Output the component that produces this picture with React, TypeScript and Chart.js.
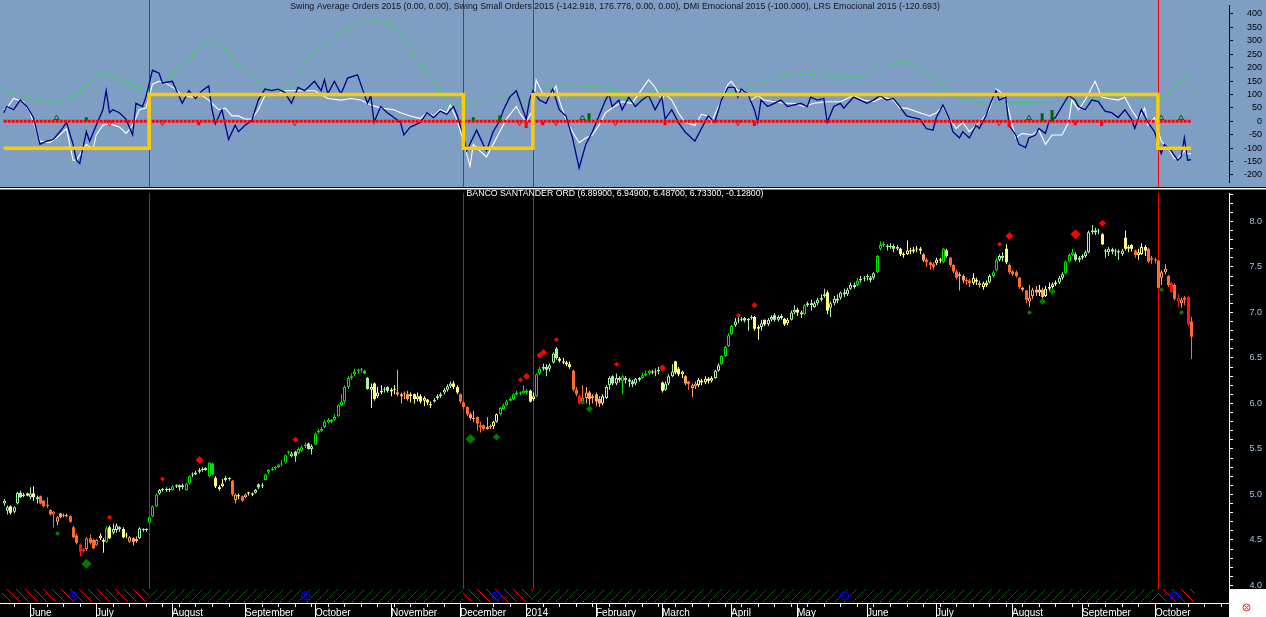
import React, { useEffect, useRef } from 'react';
import { Chart, registerables } from 'chart.js';

Chart.register(...registerables);

const FONT = '"Liberation Sans", Arial, Helvetica, sans-serif';

// ---------- calendar ----------
const monthNames = ['', 'June', 'July', 'August', 'September', 'October', 'November', 'December', '2014', 'February', 'March', 'April', 'May', 'June', 'July', 'August', 'September', 'October'];
const monthDays = [8, 20, 23, 22, 21, 23, 21, 20, 21, 20, 21, 20, 21, 21, 23, 21, 22, 12];
const FIRST_MONDAY = 3;
const FUTURE_SLOTS = 11;

// ---------- price (daily OHLC) ----------
const opens = [
  4.90, 4.82, 4.87, 4.81, 4.90, 5.02, 4.98, 5.01, 4.97, 5.01,
  4.97, 4.98, 4.93, 4.87, 4.83, 4.78, 4.70, 4.79, 4.76, 4.77,
  4.76, 4.64, 4.55, 4.45, 4.40, 4.40, 4.52, 4.50, 4.44, 4.52,
  4.48, 4.48, 4.64, 4.58, 4.61, 4.64, 4.62, 4.55, 4.48, 4.52,
  4.49, 4.52, 4.61, 4.61, 4.69, 4.76, 4.87, 5.01, 5.05, 5.05,
  5.06, 5.05, 5.09, 5.10, 5.08, 5.05, 5.12, 5.21, 5.22, 5.25,
  5.27, 5.27, 5.20, 5.34, 5.18, 5.08, 5.09, 5.16, 5.17, 5.15,
  4.94, 4.99, 4.98, 4.97, 5.01, 5.00, 5.02, 5.11, 5.09, 5.16,
  5.24, 5.27, 5.29, 5.30, 5.33, 5.35, 5.47, 5.42, 5.47, 5.45,
  5.48, 5.53, 5.56, 5.50, 5.55, 5.68, 5.70, 5.74, 5.79, 5.82,
  5.82, 5.86, 5.98, 6.02, 6.18, 6.28, 6.32, 6.36, 6.37, 6.36,
  6.28, 6.15, 6.22, 6.08, 6.12, 6.15, 6.18, 6.13, 6.15, 6.12,
  6.10, 6.10, 6.10, 6.08, 6.10, 6.05, 6.08, 6.03, 6.04, 5.99,
  6.02, 6.06, 6.08, 6.12, 6.15, 6.19, 6.22, 6.18, 6.10, 6.01,
  5.96, 5.88, 5.84, 5.85, 5.74, 5.76, 5.72, 5.74, 5.75, 5.80,
  5.88, 5.94, 5.98, 6.03, 6.05, 6.10, 6.12, 6.11, 6.14, 6.14,
  6.05, 6.08, 6.33, 6.38, 6.40, 6.38, 6.45, 6.60, 6.49, 6.46,
  6.45, 6.43, 6.36, 6.15, 6.08, 6.02, 6.06, 6.12, 6.08, 6.10,
  6.05, 6.00, 6.06, 6.20, 6.30, 6.22, 6.28, 6.24, 6.28, 6.26,
  6.24, 6.22, 6.26, 6.28, 6.31, 6.33, 6.35, 6.34, 6.35, 6.23,
  6.15, 6.22, 6.30, 6.46, 6.38, 6.32, 6.30, 6.24, 6.17, 6.19,
  6.20, 6.25, 6.23, 6.27, 6.25, 6.28, 6.36, 6.43, 6.52, 6.63,
  6.76, 6.86, 6.91, 6.92, 6.94, 6.91, 6.94, 6.95, 6.82, 6.84,
  6.92, 6.87, 6.92, 6.97, 6.92, 6.94, 6.93, 6.88, 6.92, 7.00,
  7.03, 7.00, 6.98, 7.08, 7.10, 7.06, 7.10, 7.14, 7.18, 7.22,
  7.05, 7.10, 7.15, 7.16, 7.22, 7.20, 7.26, 7.30, 7.30, 7.35,
  7.37, 7.40, 7.38, 7.38, 7.44, 7.70, 7.74, 7.72, 7.72, 7.73,
  7.70, 7.70, 7.64, 7.64, 7.68, 7.67, 7.69, 7.70, 7.64, 7.58,
  7.55, 7.53, 7.54, 7.58, 7.55, 7.68, 7.60, 7.52, 7.45, 7.40,
  7.40, 7.34, 7.35, 7.32, 7.36, 7.32, 7.28, 7.30, 7.33, 7.40,
  7.46, 7.58, 7.62, 7.70, 7.52, 7.45, 7.44, 7.38, 7.27, 7.24,
  7.12, 7.18, 7.25, 7.22, 7.25, 7.18, 7.26, 7.28, 7.31, 7.33,
  7.38, 7.43, 7.56, 7.63, 7.64, 7.58, 7.60, 7.62, 7.66, 7.88,
  7.90, 7.89, 7.86, 7.68, 7.66, 7.69, 7.67, 7.67, 7.64, 7.82,
  7.70, 7.74, 7.68, 7.63, 7.64, 7.72, 7.70, 7.58, 7.58, 7.57,
  7.38, 7.44, 7.40, 7.32, 7.30, 7.12, 7.10, 7.16, 7.17, 6.899,
];
const highs = [
  4.95, 4.88, 4.88, 4.87, 5.03, 5.04, 5.02, 5.02, 5.08, 5.09,
  4.99, 4.99, 4.94, 4.97, 4.84, 4.82, 4.76, 4.80, 4.79, 4.79,
  4.77, 4.66, 4.57, 4.46, 4.41, 4.53, 4.56, 4.51, 4.51, 4.57,
  4.52, 4.65, 4.66, 4.68, 4.68, 4.65, 4.64, 4.58, 4.54, 4.53,
  4.54, 4.64, 4.63, 4.63, 4.76, 4.88, 5.01, 5.06, 5.07, 5.08,
  5.07, 5.10, 5.11, 5.11, 5.12, 5.13, 5.21, 5.24, 5.26, 5.29,
  5.30, 5.30, 5.36, 5.35, 5.20, 5.10, 5.17, 5.20, 5.19, 5.16,
  5.01, 5.01, 4.99, 5.01, 5.03, 5.02, 5.06, 5.12, 5.13, 5.23,
  5.28, 5.30, 5.31, 5.34, 5.38, 5.44, 5.48, 5.47, 5.48, 5.52,
  5.54, 5.57, 5.57, 5.55, 5.68, 5.72, 5.74, 5.82, 5.84, 5.83,
  5.88, 5.99, 6.10, 6.20, 6.30, 6.33, 6.38, 6.38, 6.39, 6.37,
  6.29, 6.22, 6.23, 6.18, 6.20, 6.18, 6.19, 6.17, 6.20, 6.37,
  6.12, 6.13, 6.14, 6.12, 6.11, 6.12, 6.10, 6.08, 6.05, 6.02,
  6.06, 6.10, 6.12, 6.17, 6.21, 6.24, 6.25, 6.20, 6.11, 6.03,
  5.97, 5.90, 5.92, 5.86, 5.80, 5.77, 5.85, 5.77, 5.81, 5.89,
  5.96, 6.00, 6.04, 6.07, 6.11, 6.14, 6.13, 6.20, 6.16, 6.15,
  6.12, 6.33, 6.40, 6.44, 6.43, 6.44, 6.56, 6.62, 6.51, 6.50,
  6.47, 6.46, 6.37, 6.18, 6.10, 6.20, 6.18, 6.14, 6.10, 6.12,
  6.08, 6.10, 6.20, 6.30, 6.31, 6.33, 6.30, 6.31, 6.30, 6.28,
  6.26, 6.28, 6.29, 6.34, 6.36, 6.37, 6.37, 6.38, 6.40, 6.24,
  6.24, 6.32, 6.43, 6.47, 6.40, 6.36, 6.31, 6.25, 6.22, 6.24,
  6.28, 6.27, 6.30, 6.29, 6.30, 6.37, 6.44, 6.53, 6.63, 6.77,
  6.86, 6.94, 6.96, 6.95, 6.95, 6.94, 6.97, 6.96, 6.86, 6.92,
  6.92, 6.94, 6.97, 6.99, 6.97, 6.98, 6.94, 6.94, 7.02, 7.08,
  7.05, 7.02, 7.09, 7.12, 7.14, 7.12, 7.16, 7.20, 7.26, 7.24,
  7.12, 7.18, 7.20, 7.23, 7.26, 7.27, 7.33, 7.33, 7.38, 7.40,
  7.40, 7.42, 7.40, 7.44, 7.63, 7.78, 7.78, 7.75, 7.76, 7.75,
  7.74, 7.71, 7.66, 7.79, 7.71, 7.72, 7.73, 7.72, 7.65, 7.60,
  7.56, 7.55, 7.60, 7.60, 7.71, 7.70, 7.61, 7.53, 7.47, 7.44,
  7.42, 7.38, 7.37, 7.43, 7.38, 7.35, 7.34, 7.35, 7.42, 7.46,
  7.60, 7.64, 7.66, 7.75, 7.54, 7.47, 7.46, 7.39, 7.28, 7.25,
  7.30, 7.27, 7.29, 7.30, 7.27, 7.29, 7.33, 7.33, 7.35, 7.40,
  7.44, 7.57, 7.65, 7.70, 7.66, 7.62, 7.64, 7.68, 7.90, 7.96,
  7.93, 7.92, 7.87, 7.70, 7.72, 7.71, 7.70, 7.69, 7.70, 7.90,
  7.74, 7.75, 7.69, 7.70, 7.76, 7.74, 7.71, 7.62, 7.60, 7.58,
  7.46, 7.53, 7.41, 7.34, 7.32, 7.20, 7.16, 7.18, 7.18, 6.949,
];
const lows = [
  4.88, 4.78, 4.78, 4.79, 4.89, 4.96, 4.97, 4.98, 4.95, 4.93,
  4.90, 4.89, 4.86, 4.85, 4.77, 4.64, 4.66, 4.74, 4.75, 4.75,
  4.69, 4.52, 4.45, 4.32, 4.36, 4.38, 4.45, 4.40, 4.43, 4.50,
  4.36, 4.47, 4.51, 4.56, 4.58, 4.59, 4.52, 4.52, 4.47, 4.44,
  4.47, 4.51, 4.59, 4.59, 4.68, 4.75, 4.86, 5.00, 5.03, 5.03,
  5.03, 5.04, 5.07, 5.04, 5.06, 5.04, 5.11, 5.19, 5.21, 5.23,
  5.25, 5.26, 5.19, 5.21, 5.07, 5.04, 5.08, 5.14, 5.15, 4.98,
  4.90, 4.95, 4.92, 4.96, 4.99, 4.98, 5.01, 5.06, 5.07, 5.15,
  5.22, 5.26, 5.27, 5.29, 5.31, 5.34, 5.44, 5.41, 5.36, 5.44,
  5.47, 5.51, 5.49, 5.44, 5.54, 5.67, 5.69, 5.73, 5.78, 5.78,
  5.81, 5.85, 5.97, 6.00, 6.16, 6.26, 6.30, 6.33, 6.34, 6.32,
  6.15, 5.95, 6.03, 6.06, 6.10, 6.12, 6.12, 6.08, 6.10, 6.08,
  6.00, 6.05, 6.03, 6.01, 6.00, 6.02, 6.00, 5.97, 5.98, 5.95,
  6.01, 6.04, 6.06, 6.10, 6.13, 6.17, 6.16, 6.10, 6.00, 5.94,
  5.86, 5.82, 5.80, 5.70, 5.68, 5.70, 5.71, 5.72, 5.72, 5.79,
  5.87, 5.93, 5.97, 6.02, 6.04, 6.09, 6.09, 6.10, 6.10, 6.01,
  6.03, 6.07, 6.31, 6.36, 6.30, 6.35, 6.44, 6.48, 6.45, 6.43,
  6.41, 6.38, 6.13, 6.08, 5.99, 6.00, 6.00, 5.98, 6.00, 5.97,
  5.96, 5.98, 6.05, 6.15, 6.20, 6.20, 6.23, 6.10, 6.22, 6.18,
  6.18, 6.20, 6.24, 6.27, 6.30, 6.31, 6.32, 6.30, 6.32, 6.12,
  6.14, 6.20, 6.29, 6.32, 6.30, 6.28, 6.20, 6.15, 6.07, 6.16,
  6.18, 6.20, 6.21, 6.22, 6.23, 6.27, 6.35, 6.42, 6.51, 6.62,
  6.75, 6.84, 6.88, 6.90, 6.89, 6.80, 6.92, 6.80, 6.70, 6.80,
  6.85, 6.85, 6.90, 6.90, 6.90, 6.92, 6.85, 6.86, 6.91, 6.98,
  6.96, 6.94, 6.97, 7.06, 7.02, 7.05, 7.08, 7.12, 7.16, 6.98,
  6.95, 7.08, 7.10, 7.14, 7.17, 7.18, 7.25, 7.26, 7.29, 7.33,
  7.34, 7.35, 7.33, 7.36, 7.43, 7.68, 7.72, 7.68, 7.70, 7.66,
  7.68, 7.62, 7.60, 7.63, 7.64, 7.65, 7.66, 7.64, 7.55, 7.50,
  7.47, 7.47, 7.52, 7.54, 7.54, 7.60, 7.50, 7.43, 7.36, 7.24,
  7.32, 7.30, 7.28, 7.30, 7.30, 7.27, 7.25, 7.28, 7.32, 7.38,
  7.45, 7.56, 7.56, 7.53, 7.42, 7.40, 7.38, 7.26, 7.23, 7.10,
  7.06, 7.15, 7.18, 7.18, 7.15, 7.17, 7.24, 7.26, 7.29, 7.31,
  7.36, 7.42, 7.55, 7.62, 7.56, 7.55, 7.58, 7.60, 7.65, 7.86,
  7.85, 7.86, 7.74, 7.60, 7.62, 7.64, 7.62, 7.58, 7.62, 7.68,
  7.66, 7.67, 7.60, 7.58, 7.63, 7.62, 7.54, 7.53, 7.54, 7.26,
  7.30, 7.42, 7.28, 7.22, 7.13, 7.06, 7.05, 7.08, 6.85, 6.487,
];
const closes = [
  4.93, 4.86, 4.80, 4.86, 5.02, 4.97, 5.00, 4.99, 5.01, 4.97,
  4.95, 4.90, 4.87, 4.89, 4.78, 4.81, 4.75, 4.75, 4.77, 4.76,
  4.70, 4.53, 4.47, 4.37, 4.38, 4.52, 4.47, 4.41, 4.50, 4.55,
  4.50, 4.63, 4.52, 4.62, 4.66, 4.62, 4.53, 4.56, 4.53, 4.48,
  4.51, 4.63, 4.62, 4.61, 4.75, 4.87, 5.00, 5.05, 5.05, 5.06,
  5.05, 5.09, 5.09, 5.08, 5.10, 5.12, 5.20, 5.22, 5.24, 5.27,
  5.28, 5.29, 5.35, 5.22, 5.09, 5.06, 5.12, 5.18, 5.17, 5.00,
  5.00, 4.98, 4.93, 5.00, 5.01, 5.00, 5.05, 5.08, 5.10, 5.22,
  5.27, 5.28, 5.30, 5.33, 5.34, 5.43, 5.46, 5.45, 5.42, 5.50,
  5.52, 5.55, 5.50, 5.53, 5.67, 5.70, 5.72, 5.80, 5.82, 5.80,
  5.85, 5.98, 6.02, 6.18, 6.28, 6.30, 6.35, 6.36, 6.38, 6.33,
  6.16, 6.18, 6.05, 6.12, 6.14, 6.16, 6.14, 6.15, 6.16, 6.10,
  6.08, 6.11, 6.05, 6.10, 6.05, 6.08, 6.02, 6.06, 6.01, 5.98,
  6.04, 6.08, 6.10, 6.15, 6.19, 6.22, 6.18, 6.12, 6.02, 5.96,
  5.88, 5.84, 5.83, 5.78, 5.76, 5.72, 5.74, 5.75, 5.80, 5.88,
  5.95, 5.98, 6.02, 6.05, 6.10, 6.12, 6.11, 6.14, 6.12, 6.02,
  6.08, 6.32, 6.38, 6.40, 6.37, 6.42, 6.55, 6.50, 6.47, 6.45,
  6.43, 6.40, 6.15, 6.10, 6.00, 6.06, 6.12, 6.05, 6.06, 6.02,
  6.00, 6.08, 6.18, 6.28, 6.22, 6.28, 6.26, 6.30, 6.26, 6.24,
  6.21, 6.27, 6.28, 6.31, 6.33, 6.36, 6.34, 6.35, 6.37, 6.14,
  6.22, 6.30, 6.35, 6.34, 6.32, 6.35, 6.22, 6.21, 6.20, 6.22,
  6.26, 6.23, 6.27, 6.25, 6.28, 6.36, 6.42, 6.52, 6.62, 6.75,
  6.85, 6.90, 6.92, 6.93, 6.91, 6.93, 6.95, 6.82, 6.84, 6.88,
  6.87, 6.92, 6.95, 6.92, 6.95, 6.96, 6.87, 6.92, 7.00, 7.03,
  7.00, 6.98, 7.08, 7.10, 7.08, 7.10, 7.14, 7.16, 7.20, 7.02,
  7.10, 7.15, 7.13, 7.22, 7.20, 7.25, 7.30, 7.28, 7.35, 7.37,
  7.38, 7.39, 7.36, 7.43, 7.62, 7.74, 7.75, 7.72, 7.73, 7.70,
  7.72, 7.64, 7.63, 7.68, 7.67, 7.69, 7.70, 7.68, 7.57, 7.55,
  7.52, 7.50, 7.58, 7.57, 7.70, 7.62, 7.52, 7.45, 7.38, 7.42,
  7.35, 7.36, 7.32, 7.38, 7.34, 7.30, 7.32, 7.33, 7.40, 7.44,
  7.58, 7.62, 7.60, 7.55, 7.44, 7.42, 7.40, 7.28, 7.25, 7.14,
  7.16, 7.25, 7.22, 7.25, 7.17, 7.26, 7.28, 7.31, 7.33, 7.38,
  7.42, 7.56, 7.63, 7.66, 7.58, 7.60, 7.62, 7.66, 7.88, 7.90,
  7.88, 7.90, 7.75, 7.67, 7.70, 7.67, 7.68, 7.66, 7.68, 7.70,
  7.72, 7.70, 7.63, 7.66, 7.72, 7.68, 7.56, 7.60, 7.57, 7.27,
  7.44, 7.48, 7.30, 7.25, 7.15, 7.16, 7.14, 7.14, 6.87, 6.733,
];
// trend tone of each candle: [first bar, tone] (0 red .. 5 bright green)
const toneRuns: [number, number][] = [
  [0, 4], [2, 3], [3, 4], [7, 3], [8, 4], [9, 3], [10, 4], [11, 1], [16, 2], [20, 1], [23, 0], [25, 1],
  [29, 3], [31, 5], [32, 3], [33, 4], [36, 3], [38, 2], [41, 4], [44, 5], [47, 4], [51, 5], [52, 4],
  [55, 5], [57, 4], [62, 5], [64, 3], [67, 4], [69, 1], [70, 2], [71, 3], [72, 1], [73, 2], [74, 3],
  [76, 4], [79, 5], [87, 4], [89, 5], [92, 4], [94, 5], [110, 4], [111, 3], [115, 4], [117, 3], [119, 2],
  [123, 3], [130, 4], [136, 3], [138, 1], [141, 2], [143, 1], [146, 2], [148, 3], [150, 5], [159, 3],
  [161, 5], [163, 4], [168, 3], [172, 1], [174, 0], [175, 1], [176, 2], [181, 3], [182, 4], [187, 5],
  [188, 4], [193, 5], [196, 4], [199, 3], [200, 4], [203, 3], [206, 2], [207, 1], [208, 2], [210, 3],
  [215, 4], [217, 5], [221, 4], [227, 3], [229, 4], [230, 3], [231, 4], [236, 3], [238, 4], [240, 3],
  [241, 4], [242, 5], [243, 4], [249, 3], [250, 4], [258, 5], [259, 4], [264, 5], [267, 4], [271, 3],
  [278, 2], [279, 1], [282, 3], [284, 5], [285, 3], [286, 1], [289, 2], [291, 1], [293, 3], [295, 2],
  [296, 3], [298, 4], [299, 5], [301, 4], [303, 3], [304, 1], [308, 2], [309, 1], [310, 2], [313, 3],
  [314, 2], [315, 3], [319, 4], [321, 5], [324, 4], [332, 3], [333, 4], [339, 3], [342, 1], [343, 3],
  [346, 1], [350, 2], [352, 1], [353, 0], [354, 1], [355, 0], [356, 2], [357, 1], [358, 0], [359, 1],
];
const toneColors = ['#ff1414', '#ff6c2c', '#ffa466', '#ffff8a', '#a8f2a8', '#00e400'];

// price-panel signal markers
const redDiaIdx = [32, 48, 59, 88, 156, 158, 162, 163, 167, 185, 199, 222, 227, 301, 304, 324, 332, 353];
const redDiaVals = [4.75, 5.17, 5.38, 5.60, 6.26, 6.30, 6.53, 6.56, 6.70, 6.43, 6.39, 6.97, 7.08, 7.75, 7.84, 7.86, 7.98, 7.24];
const redDiaSize = [2.5, 2.5, 4, 3, 2.5, 3.5, 3, 3.5, 2.5, 2.5, 3.5, 2.5, 3, 2.5, 4, 5, 3.5, 2.5];
const greenDiaIdx = [16, 25, 141, 149, 175, 177, 310, 314, 317, 350, 356];
const greenDiaVals = [4.57, 4.24, 5.61, 5.63, 6.01, 5.94, 7.00, 7.12, 7.23, 7.25, 7.00];
const greenDiaSize = [2.5, 5, 5, 3.5, 2.5, 3.5, 2.5, 3.5, 3.5, 2.5, 2.5];
const swingMarkIdx = [21, 91, 149, 254, 354];
const SWING_MARK_LEVEL = 3.885;
const HATCH_TOP = 3.96;
const HATCH_BOTTOM = 3.818;

// ---------- indicator panel ----------
const signalBars = [44, 139, 160, 349];
const signalColors = ['#008000', '#ff0000', '#008000', '#ff0000'];
const dmiIdx = [0, 44, 139, 160, 349, 359];
const dmiVals = [-100, 100, -100, 100, -100, -100];

const swingSmall: [number, number][] = [
  [0, 32], [1, 55], [3, 43], [5, 79], [7, 55], [9, 14], [11, -86], [13, -74], [15, -68], [17, -39], [19, -4],
  [21, -86], [22, -145], [23, -157], [25, -39], [26, -74], [28, -15], [30, 43], [31, 114], [32, 32], [33, 43],
  [35, 32], [37, 8], [39, -51], [40, 67], [42, 55], [43, 90], [45, 190], [47, 179], [48, 143], [51, 149],
  [54, 67], [56, 114], [58, 85], [60, 114], [62, 132], [63, 43], [64, -9], [66, 43], [68, -68], [70, -15],
  [71, -39], [73, -15], [75, 2], [77, 79], [79, 120], [81, 114], [83, 120], [85, 108], [87, 67], [89, 126],
  [91, 114], [94, 149], [96, 114], [97, 155], [98, 102], [100, 149], [102, 102], [104, 161], [107, 173],
  [109, 102], [110, 67], [111, 96], [112, -4], [114, 55], [116, 32], [118, 14], [120, -4], [121, -51],
  [123, -21], [126, -4], [128, 32], [130, 14], [132, 38], [134, 26], [136, 55], [137, 26], [139, -51],
  [140, -110], [143, -33], [145, -86], [146, -110], [148, -39], [150, 2], [151, 38], [153, 90], [155, 114],
  [156, 79], [158, 8], [159, 79], [160, 114], [162, 79], [164, 67], [166, 120], [168, 43], [170, 20],
  [172, -62], [174, -174], [176, -86], [178, -39], [180, 20], [182, 79], [183, 102], [184, 55], [186, 79],
  [187, 43], [189, 90], [191, 55], [193, 79], [195, 96], [197, 43], [199, 90], [200, 8], [202, 43],
  [204, -4], [206, -39], [209, -74], [211, -27], [213, 20], [215, -4], [217, 79], [219, 126], [221, 126],
  [222, 90], [223, 120], [225, 102], [227, 43], [228, -4], [229, 79], [231, 55], [233, 67], [235, 79],
  [237, 55], [239, 61], [241, 67], [243, 55], [244, 90], [246, 79], [248, 85], [249, -4], [251, 55],
  [253, 67], [254, 49], [257, 90], [259, 79], [261, 67], [263, 79], [265, 96], [267, 79], [269, 85],
  [271, 55], [273, 20], [275, 14], [277, 8], [279, -27], [281, -33], [282, 14], [284, 61], [286, 8],
  [287, -39], [289, -62], [290, -39], [292, -62], [294, -15], [295, -27], [297, 20], [298, 55], [300, 114],
  [301, 79], [303, 90], [304, -15], [306, -51], [307, -86], [309, -98], [310, -62], [312, -51], [313, -27],
  [315, -45], [316, -4], [318, 14], [320, 55], [322, 96], [324, 79], [325, 55], [327, 43], [329, 79],
  [331, 73], [333, 38], [335, 32], [337, 14], [339, 43], [341, 8], [342, -27], [344, 43], [346, -4],
  [348, -39], [350, -121], [351, -86], [353, -110], [355, -145], [356, -133], [357, -62], [358, -145], [359, -143],
];
const lrsEmocional: [number, number][] = [
  [0, 43], [1, 49], [3, 85], [6, 73], [8, 32], [10, -39], [11, -74], [14, -80], [16, -62], [19, -27],
  [21, -145], [22, -145], [25, -86], [27, -104], [28, -51], [30, -15], [32, -9], [35, -21], [37, -45],
  [39, -15], [41, 43], [43, 49], [45, 138], [47, 149], [49, 143], [52, 120], [54, 96], [57, 90], [60, 96],
  [62, 79], [65, 43], [67, 49], [69, 20], [71, 20], [73, 8], [75, 8], [77, 43], [79, 96], [83, 102],
  [85, 114], [89, 114], [94, 114], [98, 85], [102, 79], [105, 85], [108, 79], [111, 61], [114, 49],
  [118, 43], [120, 32], [123, 20], [126, 10], [128, 32], [130, 20], [132, 43], [134, 32], [135, 61],
  [137, 8], [139, -74], [141, -168], [142, -86], [144, -110], [146, -133], [148, -86], [150, -39],
  [152, 8], [155, 55], [156, 32], [158, -4], [160, 43], [161, 155], [163, 102], [165, 90], [167, 132],
  [168, 79], [170, 8], [172, -39], [174, -80], [176, -62], [178, -51], [180, -15], [182, 32], [184, 49],
  [187, 73], [190, 67], [192, 102], [195, 155], [197, 126], [199, 79], [200, 102], [202, 79], [204, 32],
  [206, -4], [209, -15], [211, 26], [213, 20], [214, -4], [217, 79], [219, 138], [220, 149], [222, 114],
  [224, 114], [226, 79], [228, 96], [230, 79], [233, 73], [236, 67], [239, 67], [242, 55], [245, 67],
  [249, 73], [253, 73], [257, 96], [260, 79], [263, 73], [266, 90], [269, 79], [271, 49], [273, 49],
  [277, 32], [280, 20], [282, 32], [284, 55], [286, 8], [288, -27], [290, -4], [292, -39], [294, -15],
  [296, 8], [298, 43], [300, 120], [301, 114], [303, 85], [305, -15], [306, -62], [308, -45], [311, -51],
  [313, -33], [315, -86], [317, -51], [320, -51], [322, -4], [323, 79], [325, 43], [327, 79], [328, 102],
  [330, 149], [332, 90], [334, 85], [337, 79], [339, 90], [341, 43], [343, 8], [345, 49], [346, -15],
  [348, 14], [350, -74], [352, -98], [354, -139], [355, -139], [357, -110], [358, -121], [359, -121],
];
const swingAverage: [number, number][] = [
  [0, 114], [5, 95], [10, 78], [15, 75], [19, 80], [25, 130], [30, 177], [35, 160], [40, 130], [44, 114],
  [48, 142], [55, 220], [62, 297], [67, 270], [72, 200], [77, 150], [80, 120], [85, 120], [90, 190],
  [94, 255], [101, 319], [106, 360], [110, 379], [114, 372], [117, 361], [122, 290], [126, 209],
  [130, 150], [134, 78], [139, 64], [144, 67], [151, 96], [159, 78], [163, 110], [166, 131], [171, 133],
  [176, 131], [184, 119], [190, 78], [196, 107], [202, 125], [207, 110], [211, 96], [217, 103], [225, 120],
  [232, 155], [238, 177], [243, 176], [247, 171], [253, 165], [259, 167], [266, 202], [272, 220],
  [277, 202], [282, 150], [286, 107], [292, 80], [298, 67], [308, 70], [318, 74], [326, 67], [332, 100],
  [338, 114], [344, 95], [348, 78], [353, 114], [356, 145], [359, 173],
];
const histIdx = [25, 59, 142, 150, 158, 163, 177, 200, 227, 304, 314, 317, 324, 332];
const histVals = [15, -15, 15, 22, -25, -15, 30, -15, -18, -22, 30, 42, -15, -18];
const upMarkIdx = [16, 175, 310, 350, 356];
const downMarkIdx = [32, 48, 88, 156, 167, 185, 222, 301];
const UP_MARK_LEVEL = 12;
const DOWN_MARK_LEVEL = -5;

const topTitle = 'Swing Average Orders 2015 (0.00, 0.00), Swing Small Orders 2015 (-142.918, 176.776, 0.00, 0.00), DMI Emocional 2015 (-100.000), LRS Emocional 2015 (-120.693)';
const bottomTitle = 'BANCO SANTANDER ORD (6.89900, 6.94900, 6.48700, 6.73300, -0.12800)';

// ---------- derived helpers ----------
const TOTAL_BARS = closes.length;
const X_MIN = -0.5;
const X_MAX = TOTAL_BARS + FUTURE_SLOTS - 0.5;
const monthStarts: number[] = [];
monthDays.reduce((acc, d) => { monthStarts.push(acc); return acc + d; }, 0);
const monthLabelAt = new Map<number, string>();
monthStarts.forEach((s, k) => { if (monthNames[k]) monthLabelAt.set(s, monthNames[k]); });

const toneOf = (i: number) => {
  let t = toneRuns[0][1];
  for (const [s, v] of toneRuns) { if (s <= i) t = v; else break; }
  return t;
};
const pairsToPts = (arr: [number, number][]) => arr.map(([x, y]) => ({ x, y }));
const idxToPts = (idx: number[], vals: number[]) => idx.map((x, k) => ({ x, y: vals[k] }));

function fitText(ctx: CanvasRenderingContext2D, text: string, cx: number, cy: number, width: number, color: string) {
  ctx.font = `10px ${FONT}`;
  const w = ctx.measureText(text).width;
  const size = (10 * width) / w;
  ctx.font = `${size.toFixed(2)}px ${FONT}`;
  ctx.fillStyle = color;
  ctx.textAlign = 'center';
  ctx.textBaseline = 'middle';
  ctx.fillText(text, cx, cy);
}

const topPlugin = {
  id: 'topDecor',
  beforeDraw(chart: any) {
    const { ctx } = chart;
    ctx.save();
    ctx.fillStyle = '#7f9ec4';
    ctx.fillRect(0, 0, chart.width, chart.height);
    ctx.restore();
  },
  beforeDatasetsDraw(chart: any) {
    const { ctx } = chart;
    const xs = chart.scales.x;
    ctx.save();
    signalBars.forEach((b, k) => {
      const x = Math.round(xs.getPixelForValue(b)) + 0.5;
      ctx.strokeStyle = signalColors[k];
      ctx.lineWidth = 1;
      ctx.beginPath();
      ctx.moveTo(x, 0);
      ctx.lineTo(x, chart.height);
      ctx.stroke();
    });
    ctx.restore();
  },
  afterDraw(chart: any) {
    const { ctx } = chart;
    ctx.save();
    fitText(ctx, topTitle, 615, 7, 650, '#161616');
    ctx.fillStyle = '#000';
    ctx.fillRect(0, chart.height - 1, chart.width, 1);
    ctx.restore();
  },
};

const bottomPlugin = {
  id: 'bottomDecor',
  beforeDraw(chart: any) {
    const { ctx } = chart;
    ctx.save();
    ctx.fillStyle = '#000';
    ctx.fillRect(0, 0, chart.width, chart.height);
    ctx.restore();
  },
  beforeDatasetsDraw(chart: any) {
    const { ctx, chartArea } = chart;
    const xs = chart.scales.x;
    const ys = chart.scales.y;
    const hTop = Math.round(ys.getPixelForValue(HATCH_TOP));
    const hBot = Math.round(ys.getPixelForValue(HATCH_BOTTOM));
    ctx.save();
    signalBars.forEach((b, k) => {
      const x = Math.round(xs.getPixelForValue(b)) + 0.5;
      ctx.strokeStyle = signalColors[k];
      ctx.lineWidth = 1;
      ctx.beginPath();
      ctx.moveTo(x, chartArea.top);
      ctx.lineTo(x, hTop);
      ctx.stroke();
    });
    const bounds = [0, ...signalBars, TOTAL_BARS - 1];
    for (let s = 0; s < bounds.length - 1; s++) {
      const red = s % 2 === 0;
      const x0 = s === 0 ? chartArea.left : xs.getPixelForValue(bounds[s]);
      const x1 = s === bounds.length - 2 ? xs.getPixelForValue(bounds[s + 1]) + 4 : xs.getPixelForValue(bounds[s + 1]);
      ctx.save();
      ctx.beginPath();
      ctx.rect(x0, hTop, x1 - x0, hBot - hTop);
      ctx.clip();
      ctx.strokeStyle = red ? '#ff0000' : '#00b400';
      ctx.lineWidth = 1;
      ctx.setLineDash(red ? [] : [1.5, 1.5]);
      const h = hBot - hTop;
      ctx.beginPath();
      for (let x = x0 - h - 9; x < x1 + h; x += 9) {
        if (red) { ctx.moveTo(x, hTop); ctx.lineTo(x + h, hBot); }
        else { ctx.moveTo(x, hBot); ctx.lineTo(x + h, hTop); }
      }
      ctx.stroke();
      ctx.restore();
    }
    ctx.restore();
    // shift marks by half a pixel so 1px wicks / 3px bodies land on whole pixels
    ctx.save();
    ctx.translate(0.5, 0);
  },
  afterDatasetsDraw(chart: any) {
    chart.ctx.restore();
  },
  afterDraw(chart: any) {
    const { ctx, chartArea } = chart;
    const xs = chart.scales.x;
    ctx.save();
    ctx.fillStyle = '#ffffff';
    ctx.fillRect(0, 0, chart.width, 1.5);
    ctx.strokeStyle = '#ffffff';
    ctx.lineWidth = 1;
    monthStarts.forEach((s, k) => {
      if (k === 0) return;
      const x = Math.round(xs.getPixelForValue(s)) + 0.5;
      ctx.beginPath();
      ctx.moveTo(x, chartArea.bottom);
      ctx.lineTo(x, chart.height);
      ctx.stroke();
    });
    ctx.fillRect(0, chartArea.bottom, chartArea.left, 1);
    fitText(ctx, bottomTitle, 615, 6, 297, '#ffffff');
    ctx.fillStyle = '#ffffff';
    ctx.fillRect(chartArea.right, 401, chart.width - chartArea.right, chart.height - 401);
    ctx.strokeStyle = '#ff2020';
    ctx.lineWidth = 1;
    const cx = 1246.5, cy = 419.5;
    ctx.beginPath();
    ctx.arc(cx, cy, 3.5, 0, Math.PI * 2);
    ctx.moveTo(cx - 2, cy - 2); ctx.lineTo(cx + 2, cy + 2);
    ctx.moveTo(cx + 2, cy - 2); ctx.lineTo(cx - 2, cy + 2);
    ctx.stroke();
    ctx.restore();
  },
};

function buildTopConfig(): any {
  return {
    type: 'line',
    data: {
      datasets: [
        { label: 'Swing Average Orders 2015', data: pairsToPts(swingAverage), borderColor: '#00ff00', borderWidth: 1.2, borderDash: [2, 3], pointRadius: 0, cubicInterpolationMode: 'monotone', order: 7 },
        { label: 'LRS Emocional 2015', data: pairsToPts(lrsEmocional), borderColor: '#ffffff', borderWidth: 1.1, pointRadius: 0, order: 6 },
        { label: 'Swing Small Orders 2015', data: pairsToPts(swingSmall), borderColor: '#000088', borderWidth: 1.3, pointRadius: 0, order: 5 },
        { label: 'zero', data: [{ x: 0, y: 0 }, { x: TOTAL_BARS - 1, y: 0 }], borderColor: '#ff0000', borderWidth: 3, borderDash: [3, 1], pointRadius: 0, order: 4 },
        { type: 'bar', label: 'orders', data: idxToPts(histIdx, histVals), backgroundColor: histVals.map((v) => (v >= 0 ? '#006400' : '#ff0000')), barThickness: 3, grouped: false, inflateAmount: 0, order: 3 },
        { label: 'up', data: upMarkIdx.map((x) => ({ x, y: UP_MARK_LEVEL })), showLine: false, pointStyle: 'triangle', pointRadius: 3, pointBorderColor: '#006400', pointBackgroundColor: 'rgba(0,0,0,0)', pointBorderWidth: 1, order: 2 },
        { label: 'down', data: downMarkIdx.map((x) => ({ x, y: DOWN_MARK_LEVEL })), showLine: false, pointStyle: 'triangle', pointRotation: 180, pointRadius: 3, pointBorderColor: '#ff0000', pointBackgroundColor: 'rgba(0,0,0,0)', pointBorderWidth: 1, order: 2 },
        { label: 'DMI Emocional 2015', data: idxToPts(dmiIdx, dmiVals), borderColor: '#ffcc00', borderWidth: 3.5, stepped: 'before', pointRadius: 0, order: 1 },
      ],
    },
    options: {
      animation: false,
      responsive: false,
      maintainAspectRatio: false,
      devicePixelRatio: 1,
      events: [],
      layout: { autoPadding: false, padding: { left: 2, right: 4, top: 0, bottom: 1 } },
      plugins: { legend: { display: false }, tooltip: { enabled: false }, title: { display: false } },
      scales: {
        x: { type: 'linear', min: X_MIN, max: X_MAX, display: false, offset: false, grid: { offset: false } },
        y: {
          position: 'right',
          min: -228.4,
          max: 431.7,
          afterFit: (s: any) => { s.width = 33; },
          afterBuildTicks: (s: any) => {
            const t = [];
            for (let v = -200; v <= 400; v += 50) t.push({ value: v });
            s.ticks = t;
          },
          ticks: { color: '#000000', font: { family: FONT, size: 9 }, crossAlign: 'far', padding: 0, autoSkip: false, callback: (v: number) => String(v) },
          grid: { drawOnChartArea: false, tickLength: 4, color: '#000000' },
          border: { color: '#000000' },
        },
      },
    },
    plugins: [topPlugin],
  };
}

function buildBottomConfig(): any {
  const bars = closes.map((_, i) => i);
  const tone = bars.map((i) => toneColors[toneOf(i)]);
  const up = bars.map((i) => closes[i] > opens[i]);
  return {
    type: 'line',
    data: {
      datasets: [
        { type: 'bar', label: 'range', data: bars.map((i) => ({ x: i, y: [lows[i], highs[i]] })), backgroundColor: tone, barThickness: 1, grouped: false, inflateAmount: 0, minBarLength: 1, order: 6 },
        { type: 'bar', label: 'BANCO SANTANDER ORD', data: bars.map((i) => ({ x: i, y: [opens[i], closes[i]] })), backgroundColor: bars.map((i) => (up[i] ? '#000000' : tone[i])), borderColor: tone, borderWidth: bars.map((i) => (up[i] ? 1 : 0)), borderSkipped: false, barThickness: 3, grouped: false, inflateAmount: 0, minBarLength: 1, order: 5 },
        { label: 'sell', data: idxToPts(redDiaIdx, redDiaVals), showLine: false, pointStyle: 'rectRot', pointRadius: redDiaSize, pointBackgroundColor: '#ff0000', pointBorderWidth: 0, order: 2 },
        { label: 'buy', data: idxToPts(greenDiaIdx, greenDiaVals), showLine: false, pointStyle: 'rectRot', pointRadius: greenDiaSize, pointBackgroundColor: '#007a00', pointBorderWidth: 0, order: 2 },
        { label: 'swing', data: swingMarkIdx.map((x) => ({ x, y: SWING_MARK_LEVEL })), showLine: false, pointStyle: 'circle', pointRadius: 4, pointBorderColor: '#0000ff', pointBackgroundColor: 'rgba(0,0,0,0)', pointBorderWidth: 1.3, order: 1 },
        { label: 'swing-x', data: swingMarkIdx.map((x) => ({ x, y: SWING_MARK_LEVEL })), showLine: false, pointStyle: 'crossRot', pointRadius: 3, pointBorderColor: '#0000ff', pointBorderWidth: 1, order: 1 },
      ],
    },
    options: {
      animation: false,
      responsive: false,
      maintainAspectRatio: false,
      devicePixelRatio: 1,
      events: [],
      layout: { autoPadding: false, padding: { left: 2, right: 4, top: 1, bottom: 0 } },
      plugins: { legend: { display: false }, tooltip: { enabled: false }, title: { display: false } },
      scales: {
        x: {
          type: 'linear',
          min: X_MIN,
          max: X_MAX,
          position: 'bottom',
          offset: false,
          alignToPixels: true,
          afterFit: (s: any) => { s.height = 14; s.paddingLeft = 0; s.paddingRight = 0; },
          afterBuildTicks: (s: any) => {
            const set = new Set<number>();
            for (let i = FIRST_MONDAY; i < TOTAL_BARS + FUTURE_SLOTS; i += 5) set.add(i);
            monthStarts.forEach((m, k) => { if (k > 0) set.add(m); });
            s.ticks = [...set].sort((a, b) => a - b).map((value) => ({ value }));
          },
          ticks: { color: '#ffffff', font: { family: FONT, size: 10 }, align: 'start', padding: 0, autoSkip: false, maxRotation: 0, minRotation: 0, callback: (v: number) => monthLabelAt.get(v) ?? '' },
          grid: { drawOnChartArea: false, tickLength: 4, color: '#ffffff', offset: false },
          border: { color: '#ffffff' },
        },
        y: {
          position: 'right',
          min: 3.8076,
          max: 8.3076,
          afterFit: (s: any) => { s.width = 33; },
          afterBuildTicks: (s: any) => {
            const t = [];
            for (let k = 39; k <= 83; k++) t.push({ value: k / 10 });
            s.ticks = t;
          },
          ticks: {
            color: '#a9c6ec', font: { family: FONT, size: 9 }, crossAlign: 'far', padding: 0, autoSkip: false,
            callback: (v: number) => { const k = Math.round(v * 10); return k % 5 === 0 ? (k / 10).toFixed(1) : ''; },
          },
          grid: { drawOnChartArea: false, tickLength: 4, color: '#ffffff' },
          border: { color: '#ffffff' },
        },
      },
    },
    plugins: [bottomPlugin],
  };
}

export default function App() {
  const topRef = useRef<HTMLCanvasElement>(null);
  const botRef = useRef<HTMLCanvasElement>(null);
  useEffect(() => {
    const top = new Chart(topRef.current as HTMLCanvasElement, buildTopConfig());
    const bot = new Chart(botRef.current as HTMLCanvasElement, buildBottomConfig());
    return () => { top.destroy(); bot.destroy(); };
  }, []);
  return (
    <div style={{ position: 'fixed', left: 0, top: 0, width: 1266, height: 617, background: '#000', overflow: 'hidden' }}>
      <canvas ref={topRef} width={1266} height={188} style={{ position: 'absolute', left: 0, top: 0, width: 1266, height: 188 }} />
      <canvas ref={botRef} width={1266} height={429} style={{ position: 'absolute', left: 0, top: 188, width: 1266, height: 429 }} />
    </div>
  );
}
